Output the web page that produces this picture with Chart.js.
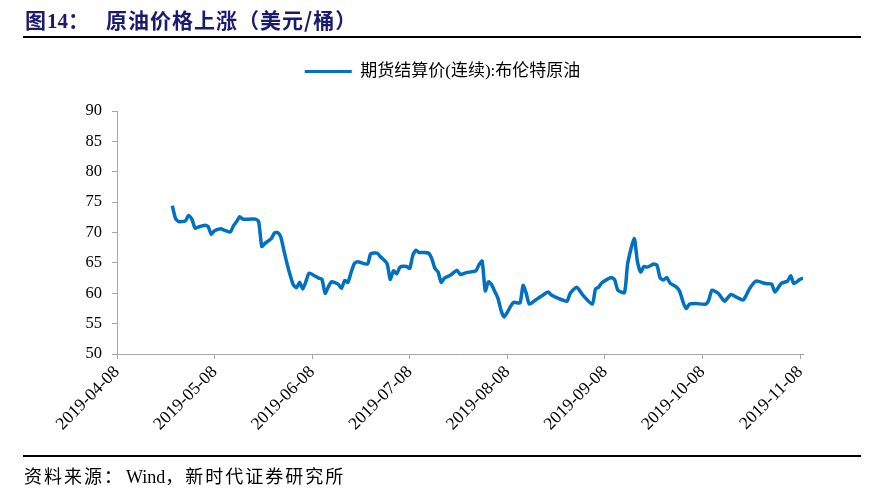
<!DOCTYPE html>
<html><head><meta charset="utf-8">
<script src="https://cdn.jsdelivr.net/npm/chart.js@4.4.1/dist/chart.umd.min.js"></script>
<style>
html,body{margin:0;padding:0;background:#fff;}
#wrap{position:relative;width:869px;height:496px;overflow:hidden;background:#fff;}
canvas{position:absolute;left:0;top:0;}
.title{position:absolute;left:25px;top:7px;line-height:24px;font-family:"Liberation Serif","Noto Sans CJK SC";font-weight:bold;font-size:21px;color:#1a1a6e;white-space:pre;}
.title .cn{font-family:"Noto Sans CJK SC";letter-spacing:1px;}
.rule{position:absolute;left:23px;width:838px;height:2px;background:#000;}
.src{position:absolute;left:24px;top:464px;line-height:22px;font-family:"Liberation Serif","Noto Sans CJK SC";font-size:18px;color:#000;white-space:pre;}
.src .cn{font-family:"Noto Sans CJK SC";letter-spacing:2px;}
</style></head>
<body><div id="wrap">
<canvas id="c" width="869" height="496"></canvas>
<div class="title"><span class="cn">图</span>14<span class="cn">：</span><span class="cn" style="margin-left:16px">原油价格上涨（美元/桶）</span></div>
<div class="rule" style="top:36px"></div>
<div class="rule" style="top:455px"></div>
<div class="src"><span class="cn">资料来源：</span><span style="margin-left:2px">Wind</span><span class="cn">，新时代证券研究所</span></div>
</div>
<script>
const tickLabels = ['2019-04-08','2019-05-08','2019-06-08','2019-07-08','2019-08-08','2019-09-08','2019-10-08','2019-11-08'];
const seriesName = '期货结算价(连续):布伦特原油';
const dates = [
'2019-04-25','2019-04-26','2019-04-27','2019-04-29','2019-04-30','2019-05-01','2019-05-02','2019-05-03','2019-05-05','2019-05-06','2019-05-07',
'2019-05-08','2019-05-10','2019-05-11','2019-05-13','2019-05-14','2019-05-15','2019-05-16','2019-05-17','2019-05-19','2019-05-21','2019-05-22',
'2019-05-23','2019-05-24','2019-05-26','2019-05-27','2019-05-28','2019-05-29','2019-05-30','2019-05-31','2019-06-01','2019-06-02','2019-06-03',
'2019-06-04','2019-06-05','2019-06-06','2019-06-07','2019-06-09','2019-06-10','2019-06-11','2019-06-12','2019-06-13','2019-06-14','2019-06-16',
'2019-06-17','2019-06-18','2019-06-19','2019-06-20','2019-06-21','2019-06-22','2019-06-25','2019-06-26','2019-06-28','2019-06-29','2019-07-01',
'2019-07-02','2019-07-03','2019-07-04','2019-07-05','2019-07-07','2019-07-08','2019-07-09','2019-07-10','2019-07-11','2019-07-12','2019-07-14',
'2019-07-15','2019-07-16','2019-07-17','2019-07-18','2019-07-19','2019-07-21','2019-07-23','2019-07-24','2019-07-26','2019-07-29','2019-07-30',
'2019-07-31','2019-08-01','2019-08-02','2019-08-03','2019-08-04','2019-08-05','2019-08-06','2019-08-07','2019-08-09','2019-08-10','2019-08-12',
'2019-08-13','2019-08-14','2019-08-15','2019-08-17','2019-08-19','2019-08-21','2019-08-22','2019-08-24','2019-08-26','2019-08-27','2019-08-28',
'2019-08-30','2019-09-01','2019-09-04','2019-09-05','2019-09-06','2019-09-07','2019-09-10','2019-09-11','2019-09-12','2019-09-14','2019-09-15',
'2019-09-17','2019-09-18','2019-09-19','2019-09-20','2019-09-21','2019-09-23','2019-09-24','2019-09-25','2019-09-26','2019-09-27','2019-09-28',
'2019-09-30','2019-10-01','2019-10-02','2019-10-03','2019-10-04','2019-10-06','2019-10-09','2019-10-10','2019-10-11','2019-10-13','2019-10-15',
'2019-10-17','2019-10-19','2019-10-21','2019-10-23','2019-10-25','2019-10-28','2019-10-30','2019-10-31','2019-11-02','2019-11-04','2019-11-05',
'2019-11-06','2019-11-08','2019-11-09'];
const prices = [
74.4,72.3,71.8,71.9,72.8,72.2,70.7,70.9,71.2,71.0,69.7,
70.3,70.6,70.4,70.1,71.1,71.8,72.6,72.2,72.2,72.2,71.8,
67.7,68.2,69.0,69.9,70.0,69.3,67.1,64.9,63.0,61.4,60.9,
61.8,60.7,61.9,63.3,62.8,62.5,62.3,60.0,61.1,61.9,61.5,
60.8,62.1,61.8,63.5,64.9,65.2,64.8,66.5,66.6,66.0,64.9,
62.3,63.7,63.2,64.3,64.4,64.1,66.3,67.1,66.7,66.7,66.6,
65.7,64.1,63.5,61.8,62.5,63.0,63.8,63.1,63.4,63.7,64.7,
65.3,60.4,61.9,61.4,60.3,59.2,57.2,56.1,57.8,58.5,58.4,
61.3,60.0,58.2,58.9,59.6,60.2,59.7,59.2,58.8,58.7,60.0,
61.0,59.7,58.2,60.7,61.0,61.7,62.6,62.2,60.5,60.1,64.9,
69.0,65.2,63.5,64.4,64.3,64.8,64.6,62.5,62.2,62.6,61.7,
61.0,60.3,58.6,57.5,58.2,58.3,58.2,58.9,60.5,60.0,58.7,
59.8,59.3,58.9,60.8,62.0,61.6,61.5,60.2,61.6,62.0,62.9,
61.6,62.3,62.5];

function utc(s){ return Date.UTC(+s.slice(0,4), +s.slice(5,7)-1, +s.slice(8,10)); }
const tickTimes = tickLabels.map(utc);
function toX(s){
  const t = utc(s);
  const n = tickTimes.length;
  for (let k = 0; k < n - 1; k++) {
    if (t < tickTimes[k+1] || k === n - 2) {
      return k + (t - tickTimes[k]) / (tickTimes[k+1] - tickTimes[k]);
    }
  }
  return 0;
}

const legendSpacer = {
  id: 'legendSpacer',
  beforeLayout(chart){
    const lg = chart.legend;
    if (lg && !lg._spacerPatched){
      const f = lg.fit.bind(lg);
      lg.fit = function(){ f(); this.height += 21; };
      lg._spacerPatched = true;
    }
  }
};

const axisColor = '#a6a6a6';
const serif = '"Liberation Serif", "Times New Roman", serif';

new Chart(document.getElementById('c').getContext('2d'), {
  type: 'line',
  data: {
    datasets: [{
      label: seriesName,
      data: dates.map((d,i) => ({x: toX(d), y: prices[i]})),
      borderColor: '#0070C0',
      backgroundColor: '#0070C0',
      borderWidth: 3.5,
      pointRadius: 0,
      tension: 0.2,
      fill: false
    }]
  },
  options: {
    responsive: false,
    animation: false,
    devicePixelRatio: 1,
    layout: { padding: { left: 82, right: 66, top: 53, bottom: 52 } },
    plugins: {
      tooltip: { enabled: false },
      legend: {
        display: true,
        position: 'top',
        labels: {
          boxWidth: 47, boxHeight: 3, padding: 10, color: '#000',
          font: { family: '"Liberation Serif", "Noto Sans CJK SC"', size: 17 },
          generateLabels(chart){
            return Chart.defaults.plugins.legend.labels.generateLabels(chart).map(l => Object.assign(l, {lineWidth: 0}));
          }
        }
      }
    },
    scales: {
      x: {
        type: 'linear', min: 0, max: 7.03,
        afterBuildTicks(s){ s.ticks = tickLabels.map((_, i) => ({value: i})); },
        afterFit(s){ s.height = 90; },
        grid: { drawOnChartArea: false, drawTicks: true, tickLength: 5, color: axisColor },
        border: { display: true, color: axisColor, width: 1 },
        ticks: {
          autoSkip: false, maxRotation: 45, minRotation: 45, padding: 3, color: '#000',
          font: { family: serif, size: 17.5 },
          callback: (v, i) => tickLabels[i]
        }
      },
      y: {
        min: 50, max: 90,
        afterFit(s){ s.width = 35; },
        grid: { drawOnChartArea: false, drawTicks: true, tickLength: 5, color: axisColor },
        border: { display: true, color: axisColor, width: 1 },
        ticks: { stepSize: 5, padding: 10, color: '#000', font: { family: serif, size: 16.5 } }
      }
    }
  },
  plugins: [legendSpacer]
});
</script>
</body></html>
